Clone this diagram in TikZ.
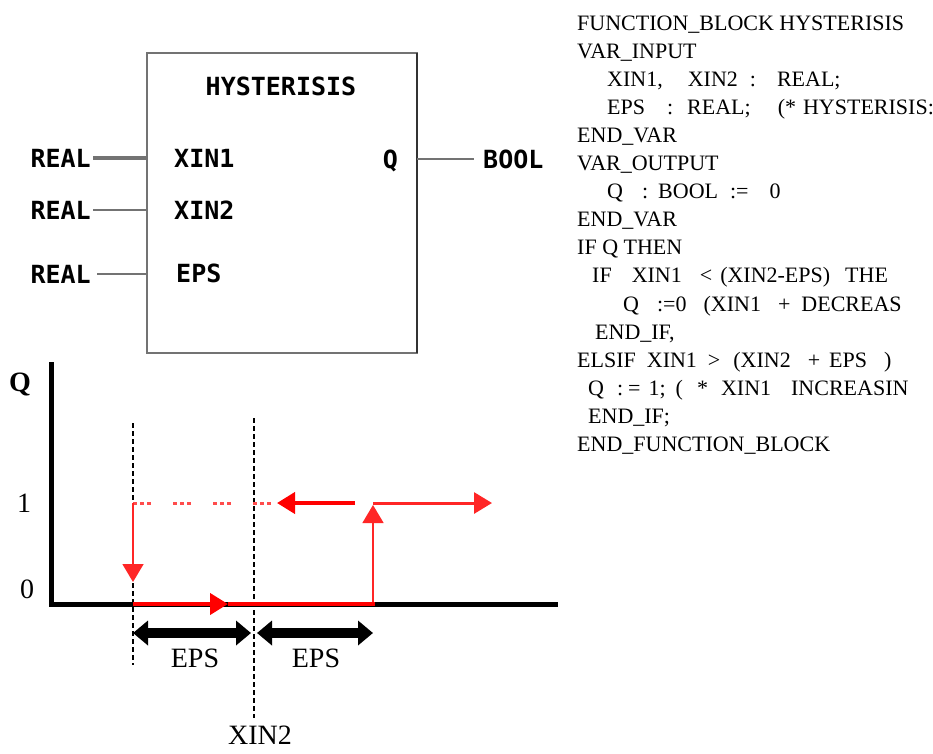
\documentclass[tikz,border=0pt]{standalone}
\usepackage{fontspec}
\setmainfont{Liberation Serif}
\newfontfamily\fbfamily{DejaVu Sans Mono}
\newcommand{\fbfont}{\fbfamily\bfseries\fontsize{25}{25}\selectfont}
\newcommand{\stfont}{\fontsize{22}{22}\selectfont}
\newcommand{\plotfont}{\fontsize{28}{28}\selectfont}
\usepackage{tikz}
\usetikzlibrary{arrows.meta,positioning}
\definecolor{fbgray}{gray}{0.45}

\begin{document}
\begin{tikzpicture}[
    x=1pt, y=-1pt,
    fbbox/.style={rectangle, draw=fbgray, line width=2pt, inner sep=0pt, outer sep=0pt},
    pinlbl/.style={font=\fbfont, inner sep=0pt},
    wire/.style={draw=fbgray, line width=2pt},
    codeline/.style={font=\stfont, inner sep=0pt, anchor=base west},
    axlbl/.style={font=\plotfont, inner sep=0pt, anchor=base},
    axis/.style={line width=5pt},
    guide/.style={line width=1.5pt, dash pattern=on 5pt off 3pt},
    hyst/.style={red, line width=4pt},
    hystthin/.style={red!85, line width=1.5pt},
    tip/.style={-{Triangle[length=18pt,width=21pt]}},
    span/.style={line width=10pt, {Triangle[length=15pt,width=24pt]}-{Triangle[length=15pt,width=24pt]}}
]
\path[use as bounding box, fill=white] (0,0) rectangle (933,753);

% function block
\node[fbbox, minimum width=270pt, minimum height=300pt, anchor=north west] (fb) at (147,53) {};
\draw[black!80, line width=2pt] (fb.north east) -- (fb.south east);
\node[pinlbl, anchor=base] (title) at (281,95) {HYSTERISIS};
\node[pinlbl, anchor=base west] (xin1) at (174,167) {XIN1};
\node[pinlbl, anchor=base west] (xin2) at (174,219) {XIN2};
\node[pinlbl, anchor=base west] (eps) at (176,282) {EPS};
\node[pinlbl, anchor=base east] (q) at (398,168) {Q};

\node[pinlbl, anchor=base east] (t1) at (91,167) {REAL};
\node[pinlbl, anchor=base east] (t2) at (91,219) {REAL};
\node[pinlbl, anchor=base east] (t3) at (91,283) {REAL};
\node[pinlbl, anchor=base west] (bool) at (483,168) {BOOL};

\draw[wire, line width=4pt] ([xshift=2pt]t1.east) -- (t1.east -| fb.west);
\draw[wire] ([xshift=2pt]t2.east) -- (t2.east -| fb.west);
\draw[wire] ([xshift=6pt]t3.east) -- (t3.east -| fb.west);
\draw[wire] (bool.west -| fb.east) -- ([xshift=-9pt]bool.west);

% structured text
\foreach \dx/\txt [count=\i from 0] in {
    0/{FUNCTION\_BLOCK HYSTERISIS},
    0/{VAR\_INPUT},
    30/{XIN1,\hspace{25pt}XIN2\hspace{12pt}:\hspace{21pt}REAL;},
    30/{EPS\hspace{22pt}:\hspace{14pt}REAL;\hspace{27pt}(*\hspace{7pt}HYSTERISIS:},
    0/{END\_VAR},
    0/{VAR\_OUTPUT},
    30/{Q\hspace{19pt}:\hspace{10pt}BOOL\hspace{12pt}:=\hspace{21pt}0},
    0/{END\_VAR},
    0/{IF Q THEN},
    15/{IF\hspace{20pt}XIN1\hspace{18pt}<\hspace{8pt}(XIN2-EPS)\hspace{15pt}THE},
    46/{Q\hspace{18pt}:=0\hspace{17pt}(XIN1\hspace{17pt}+\hspace{11pt}DECREAS},
    18/{END\_IF,},
    0/{ELSIF\hspace{11pt}XIN1\hspace{11pt}>\hspace{13pt}(XIN2\hspace{17pt}+\hspace{9pt}EPS\hspace{17pt})},
    11/{Q\hspace{13pt}:\hspace{5pt}=\hspace{8pt}1;\hspace{10pt}(\hspace{14pt}*\hspace{13pt}XIN1\hspace{20pt}INCREASIN},
    11/{END\_IF;},
    0/{END\_FUNCTION\_BLOCK}}
  \node[codeline] (src\i) at (577+\dx, 30+28.1*\i) {\txt};

% hysteresis plot
\coordinate (O) at (51,604);
\coordinate (ytop) at (51,362);
\coordinate (xend) at (558,604);
\coordinate (lotop) at (133,423);
\coordinate (lobot) at (133,665);
\coordinate (midtop) at (254,418);
\coordinate (midbot) at (254,718);

\node[axlbl, font=\plotfont\bfseries] (qlbl) at (20,391) {Q};
\node[axlbl] (one) at (24,512) {1};
\node[axlbl] (zero) at (27,598) {0};

\draw[guide] (lotop) -- (lobot);
\draw[guide] (midtop) -- (midbot);

\coordinate (a0) at (133,604);
\coordinate (a1) at (228,604);
\coordinate (a2) at (375,604);
\coordinate (b0) at (133,503);
\coordinate (b1) at (277,503);
\coordinate (b2) at (355,503);
\coordinate (c0) at (373,604);
\coordinate (c1) at (373,503);
\coordinate (c2) at (492,503);

\draw[red!70, line width=3pt, dash pattern=on 4pt off 3pt on 4pt off 3pt on 4pt off 22pt] (b0) -- (b1);
\draw[hyst, tip] (b2) -- (b1);
\draw[red!85, line width=3pt, tip] (c1) -- (c2);
\draw[hystthin, tip] (c0) -- ([yshift=-2pt]c1);
\draw[hystthin, tip] (b0) -- ([yshift=22pt]a0);

\draw[axis] (ytop) -- (O) -- (xend);
\draw[hyst, tip] (a0) -- (a1);
\draw[hyst] (a1) -- (a2);

\draw[span] (133,633) -- (251,633);
\draw[span] (257,633) -- (373,633);
\node[axlbl] (eps1) at (195,667) {EPS};
\node[axlbl] (eps2) at (316,667) {EPS};
\node[axlbl] (xin2lbl) at (260,744) {XIN2};
\end{tikzpicture}
\end{document}
